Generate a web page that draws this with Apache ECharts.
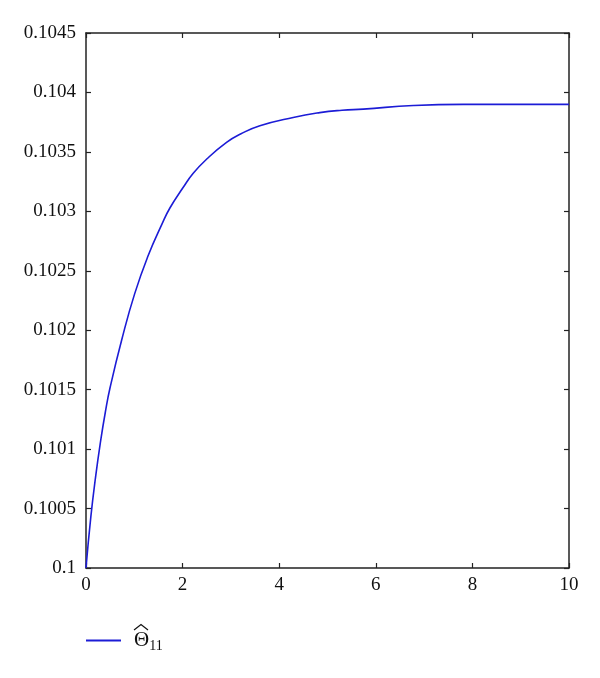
<!DOCTYPE html>
<html>
<head>
<meta charset="utf-8">
<script src="https://cdn.jsdelivr.net/npm/echarts@6/dist/echarts.min.js"></script>
<style>html,body{margin:0;padding:0;background:#fff;}#c{width:600px;height:678px;}</style>
</head>
<body>
<div id="c"></div>
<script>
const xValues = [0, 0.1, 0.2, 0.3, 0.4, 0.5, 0.74, 1.01, 1.29, 1.57, 1.74, 2.01, 2.22, 2.5, 2.91, 3.2, 3.6, 4.29, 4.84, 5.3, 5.74, 6.78, 7.81, 8.85, 10];
const theta11 = [0.1, 0.10043, 0.10077, 0.10106, 0.10131, 0.10152, 0.10192, 0.10231, 0.10263, 0.10289, 0.10303, 0.10320, 0.10332, 0.10344, 0.10358, 0.10365, 0.10372, 0.10379, 0.10383, 0.10385, 0.10386, 0.10389, 0.10390, 0.10390, 0.10390];
const seriesName = 'theta11';

const font = '"Liberation Serif", "DejaVu Serif", serif';
const axisColor = '#222';
const lineColor = '#1c1cd6';
const chart = echarts.init(document.getElementById('c'), null, {renderer: 'canvas'});
const commonAxis = {
  axisLine: {show: true, onZero: false, lineStyle: {color: axisColor, width: 1.5}},
  axisTick: {show: true, inside: true, length: 5, lineStyle: {color: axisColor, width: 1.2}},
  splitLine: {show: false}
};
chart.setOption({
  backgroundColor: '#fff',
  animation: false,
  grid: {left: 86, right: 31, top: 33, bottom: 110},
  legend: {
    show: true,
    left: 86, top: 630, padding: 0,
    itemWidth: 35, itemHeight: 2, itemGap: 10,
    icon: 'rect',
    data: [seriesName],
    formatter: function () { return '{a|Θ}{b|11}'; },
    textStyle: {
      color: '#111',
      rich: {
        a: {fontFamily: font, fontSize: 21, color: '#111', padding: [0, 0, 0, 8]},
        b: {fontFamily: font, fontSize: 14, color: '#111', padding: [12, 0, 0, 0]}
      }
    }
  },
  graphic: [{
    type: 'polyline',
    shape: {points: [[134, 630], [141, 624.5], [148, 630]]},
    style: {stroke: '#111', lineWidth: 1.2, fill: null}
  }],
  xAxis: [
    Object.assign({}, commonAxis, {
      type: 'value', min: 0, max: 10, interval: 2, position: 'bottom',
      axisLabel: {color: '#111', fontFamily: font, fontSize: 19, margin: 8}
    }),
    Object.assign({}, commonAxis, {
      type: 'value', min: 0, max: 10, interval: 2, position: 'top',
      axisLabel: {show: false}
    })
  ],
  yAxis: [
    Object.assign({}, commonAxis, {
      type: 'value', min: 0.1, max: 0.1045, interval: 0.0005, position: 'left',
      axisLabel: {color: '#111', fontFamily: font, fontSize: 19, margin: 10,
        formatter: function (v) { return parseFloat(v.toFixed(4)).toString(); }}
    }),
    Object.assign({}, commonAxis, {
      type: 'value', min: 0.1, max: 0.1045, interval: 0.0005, position: 'right',
      axisLabel: {show: false}
    })
  ],
  series: [{
    name: seriesName,
    type: 'line',
    xAxisIndex: 0, yAxisIndex: 0,
    data: xValues.map(function (x, i) { return [x, theta11[i]]; }),
    smooth: 0.5,
    symbol: 'none',
    lineStyle: {color: lineColor, width: 1.6},
    itemStyle: {color: lineColor}
  }]
});
</script>
</body>
</html>
